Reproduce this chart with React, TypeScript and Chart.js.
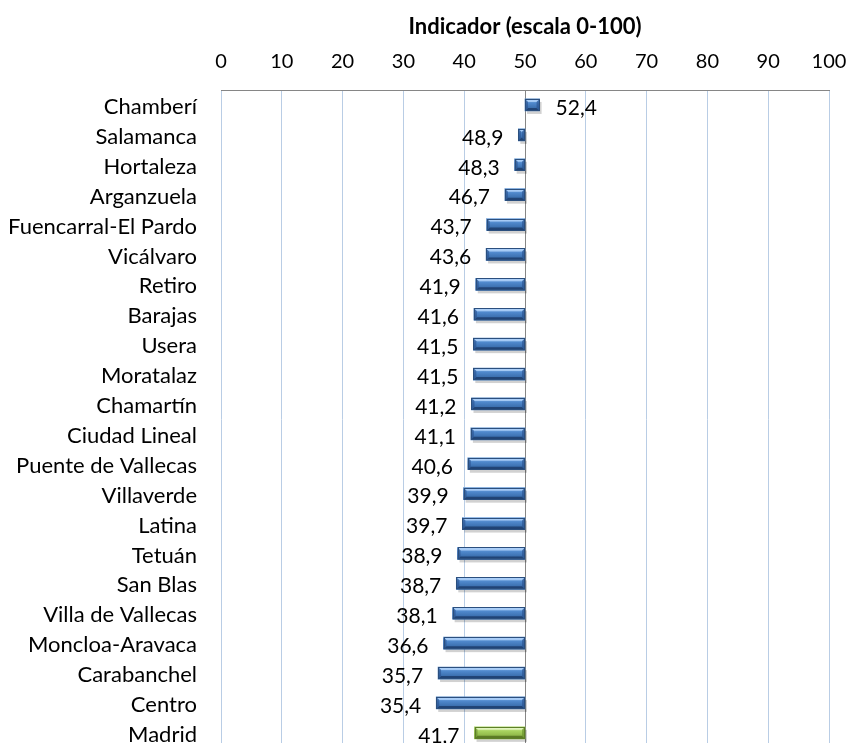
import React, { useEffect, useRef } from "react";
import { Chart, registerables } from "chart.js";

Chart.register(...registerables);

const categories = [
  "Chamberí", "Salamanca", "Hortaleza", "Arganzuela", "Fuencarral-El Pardo", "Vicálvaro",
  "Retiro", "Barajas", "Usera", "Moratalaz", "Chamartín", "Ciudad Lineal",
  "Puente de Vallecas", "Villaverde", "Latina", "Tetuán", "San Blas", "Villa de Vallecas",
  "Moncloa-Aravaca", "Carabanchel", "Centro", "Madrid",
];
const values = [
  52.4, 48.9, 48.3, 46.7, 43.7, 43.6,
  41.9, 41.6, 41.5, 41.5, 41.2, 41.1,
  40.6, 39.9, 39.7, 38.9, 38.7, 38.1,
  36.6, 35.7, 35.4, 41.7,
];
const baseline = 50;
const highlight = "Madrid";
const axisTitle = "Indicador (escala 0-100)";

const FONT = "Lato";

const bevelPlugin = {
  id: "bevel",
  beforeDatasetsDraw(chart: any) {
    const { ctx, chartArea, scales } = chart;
    const x = scales.x.getPixelForValue(baseline);
    ctx.save();
    ctx.strokeStyle = "#868686";
    ctx.lineWidth = 1;
    ctx.beginPath();
    ctx.moveTo(Math.round(x) + 0.5, chartArea.top);
    ctx.lineTo(Math.round(x) + 0.5, chartArea.bottom);
    ctx.stroke();
    const meta = chart.getDatasetMeta(0);
    meta.data.forEach((el: any) => {
      const p = el.getProps(["x", "y", "base", "height"], true);
      const l = Math.min(p.x, p.base), r = Math.max(p.x, p.base);
      const t = p.y - p.height / 2;
      ctx.fillStyle = "rgba(0,0,0,0.18)";
      ctx.fillRect(l + 2, t + 3, r - l, p.height);
    });
    ctx.restore();
  },
  afterDatasetsDraw(chart: any) {
    const { ctx } = chart;
    const meta = chart.getDatasetMeta(0);
    ctx.save();
    meta.data.forEach((el: any, i: number) => {
      const p = el.getProps(["x", "y", "base", "height"], true);
      const l = Math.min(p.x, p.base), r = Math.max(p.x, p.base);
      const t = p.y - p.height / 2, b = p.y + p.height / 2, h = p.height;
      const green = categories[i] === highlight;
      const g = ctx.createLinearGradient(0, t, 0, b);
      if (green) {
        g.addColorStop(0, "#d7efae");
        g.addColorStop(0.35, "#a8d35f");
        g.addColorStop(1, "#7ea53a");
      } else {
        g.addColorStop(0, "#8fbdf0");
        g.addColorStop(0.35, "#4f88cc");
        g.addColorStop(1, "#2f609c");
      }
      ctx.fillStyle = g;
      ctx.fillRect(l, t, r - l, h);
      const bv = Math.min(3, (r - l) / 2);
      ctx.fillStyle = green ? "rgba(235,250,205,0.75)" : "rgba(190,220,255,0.7)";
      ctx.beginPath();
      ctx.moveTo(l, t); ctx.lineTo(r, t); ctx.lineTo(r - bv, t + bv); ctx.lineTo(l + bv, t + bv); ctx.closePath();
      ctx.fill();
      ctx.fillStyle = green ? "rgba(80,110,30,0.8)" : "rgba(25,55,100,0.75)";
      ctx.beginPath();
      ctx.moveTo(l, b); ctx.lineTo(r, b); ctx.lineTo(r - bv, b - bv); ctx.lineTo(l + bv, b - bv); ctx.closePath();
      ctx.fill();
      ctx.fillStyle = green ? "rgba(100,140,40,0.6)" : "rgba(40,80,140,0.6)";
      ctx.beginPath();
      ctx.moveTo(l, t); ctx.lineTo(l + bv, t + bv); ctx.lineTo(l + bv, b - bv); ctx.lineTo(l, b); ctx.closePath();
      ctx.fill();
      ctx.beginPath();
      ctx.moveTo(r, t); ctx.lineTo(r - bv, t + bv); ctx.lineTo(r - bv, b - bv); ctx.lineTo(r, b); ctx.closePath();
      ctx.fill();
      ctx.strokeStyle = green ? "#5d7f27" : "#2b4f7e";
      ctx.lineWidth = 1;
      ctx.strokeRect(Math.round(l) + 0.5, Math.round(t) + 0.5, Math.round(r - l) - 1, Math.round(h) - 1);

      const v = values[i];
      const txt = v.toFixed(1).replace(".", ",");
      ctx.fillStyle = "#000";
      ctx.font = `21px ${FONT}`;
      ctx.textBaseline = "middle";
      if (v < baseline) {
        ctx.textAlign = "right";
        ctx.fillText(txt, l - 15, p.y + 3);
      } else {
        ctx.textAlign = "left";
        ctx.fillText(txt, r + 16, p.y + 3);
      }
    });
    ctx.restore();
  },
};

export default function App() {
  const ref = useRef<HTMLCanvasElement>(null);
  useEffect(() => {
    if (!ref.current) return;
    const chart = new Chart(ref.current, {
      type: "bar",
      data: {
        labels: categories,
        datasets: [
          {
            data: values.map((v) => [baseline, v]) as any,
            backgroundColor: categories.map((c) => (c === highlight ? "#9bcb52" : "#4f81bd")),
            borderWidth: 0,
            barThickness: 12,
          },
        ],
      },
      options: {
        indexAxis: "y",
        responsive: false,
        animation: false,
        layout: { padding: { top: 0, right: 22, left: 0, bottom: 0 } },
        plugins: { legend: { display: false }, tooltip: { enabled: false } },
        scales: {
          x: {
            position: "top",
            min: 0,
            max: 100,
            ticks: { stepSize: 10, color: "#000", font: { family: FONT, size: 20 }, padding: 0 },
            grid: { color: "#b9cde5", drawTicks: true, tickLength: 16, tickColor: "rgba(0,0,0,0)" },
            border: { color: "#868686" },
            title: {
              display: true,
              text: axisTitle,
              color: "#000",
              font: { family: FONT, size: 22, weight: "bold" },
              padding: { top: 14, bottom: 0 },
            },
            afterFit: (s: any) => { s.height = 90; },
          },
          y: {
            ticks: { color: "#000", font: { family: FONT, size: 22 }, padding: 0, autoSkip: false, labelOffset: 2 },
            grid: { display: true, drawOnChartArea: false, drawTicks: true, tickLength: 24, tickColor: "rgba(0,0,0,0)" },
            border: { display: false },
            afterFit: (s: any) => { s.width = 221; },
          },
        },
      },
      plugins: [bevelPlugin],
    });
    return () => chart.destroy();
  }, []);
  return (
    <div style={{ position: "absolute", left: 0, top: 0, width: 851, height: 761 }}>
      <canvas ref={ref} width={851} height={761} style={{ display: "block" }} />
    </div>
  );
}
